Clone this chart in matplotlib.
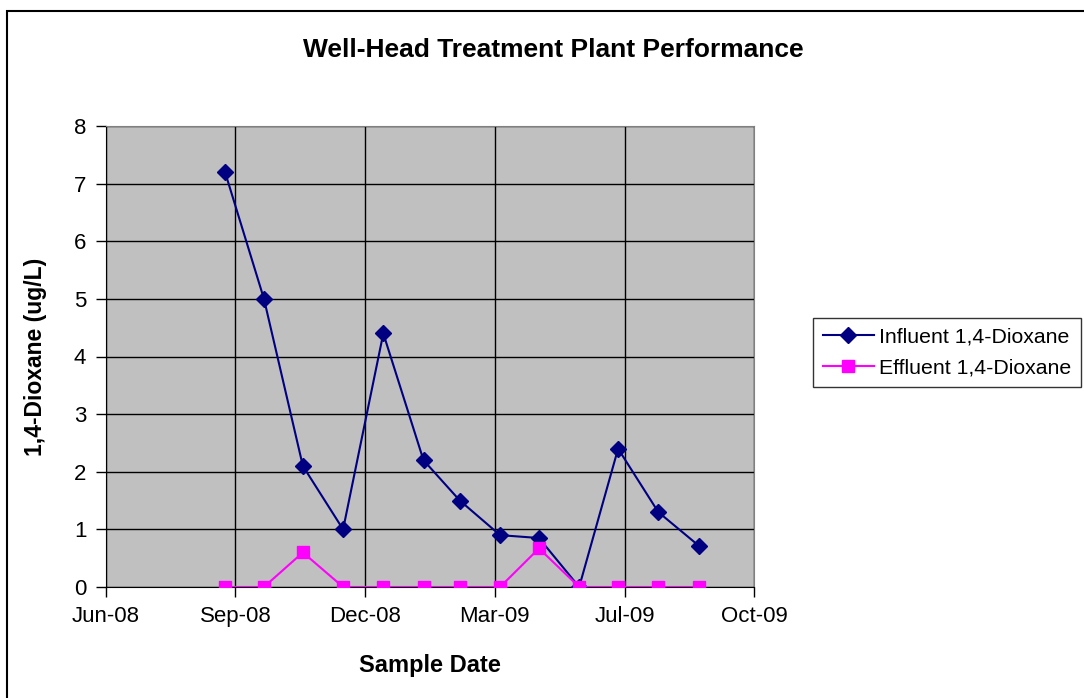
import numpy as np
import matplotlib.pyplot as plt
import matplotlib.dates as mdates
from matplotlib.patches import Rectangle

plt.rcParams['font.family'] = ['Liberation Sans', 'DejaVu Sans']

# Sample data
sample_dates = np.array(['2008-09-01', '2008-10-01', '2008-10-31', '2008-12-01',
                         '2009-01-01', '2009-02-01', '2009-03-01', '2009-04-01',
                         '2009-05-01', '2009-06-01', '2009-07-01', '2009-08-01',
                         '2009-09-01'], dtype='datetime64[D]')
influent = [7.2, 5.0, 2.1, 1.0, 4.4, 2.2, 1.5, 0.9, 0.85, 0.0, 2.4, 1.3, 0.72]
effluent = [0, 0, 0.6, 0, 0, 0, 0, 0, 0.67, 0, 0, 0, 0]

x_start = np.datetime64('2008-06-01')
tick_step = 100  # days between major ticks
tick_dates = x_start + np.arange(6) * np.timedelta64(tick_step, 'D')

fig = plt.figure(figsize=(10.84, 6.98), dpi=100)
ax = fig.add_axes([105.7 / 1084, 1 - 587 / 698, 648.6 / 1084, 461 / 698])
ax.set_facecolor('#C0C0C0')

ax.plot(sample_dates, influent, color='#000080', lw=1.5, marker='D', ms=8,
        label='Influent 1,4-Dioxane', zorder=3)
ax.plot(sample_dates, effluent, color='#FF00FF', lw=1.5, marker='s', ms=8.5,
        label='Effluent 1,4-Dioxane', zorder=4)

ax.set_xlim(tick_dates[0], tick_dates[-1])
ax.set_ylim(0, 8)
ax.set_xticks(tick_dates)
ax.xaxis.set_major_formatter(mdates.DateFormatter('%b-%y'))
ax.set_yticks(range(0, 9))

ax.grid(True, color='black', lw=1)
ax.set_axisbelow(True)
ax.tick_params(axis='both', labelsize=16, direction='out', length=7, width=1,
               color='black', pad=7)

for side in ['top', 'right']:
    ax.spines[side].set_color('#808080')
for side in ['left', 'bottom']:
    ax.spines[side].set_color('black')

ax.set_xlabel('Sample Date', fontsize=17, fontweight='bold')
ax.xaxis.set_label_coords(0.5, -0.145)
ax.set_ylabel('1,4-Dioxane (ug/L)', fontsize=16.5, fontweight='bold')
ax.yaxis.set_label_coords(-0.09, 0.5)

fig.text(553 / 1084, 1 - 50 / 698, 'Well-Head Treatment Plant Performance',
         ha='center', va='center', fontsize=19, fontweight='bold')

leg = fig.legend(loc='upper left', bbox_to_anchor=(813 / 1084, 1 - 318 / 698),
                 fontsize=15.3, frameon=True, fancybox=False, edgecolor='black',
                 handlelength=2.4, borderpad=0.45, labelspacing=0.55,
                 handletextpad=0.25, borderaxespad=0)
leg.get_frame().set_linewidth(1)

# chart outline (cut off at right and bottom)
fig.patches.append(Rectangle((7 / 1084, -0.5), 2, 0.5 + 1 - 10.7 / 698,
                             transform=fig.transFigure, fill=False,
                             edgecolor='black', lw=1.5))

plt.savefig('out.png', dpi=100)
